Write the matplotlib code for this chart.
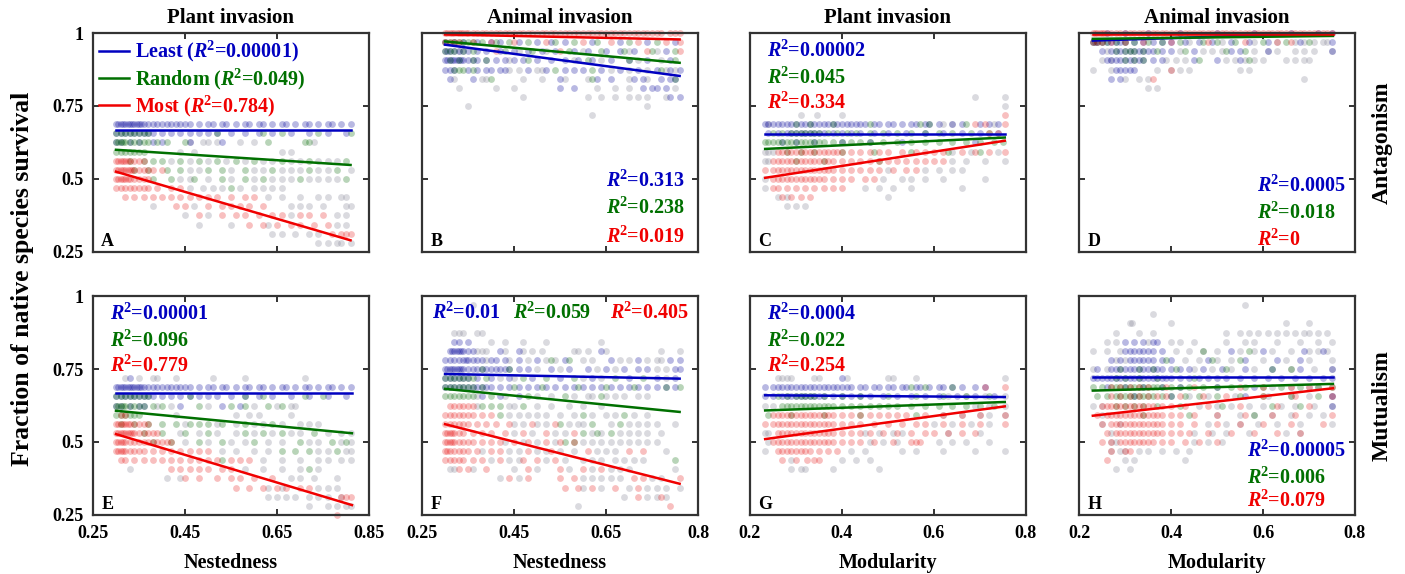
import matplotlib
matplotlib.use("Agg")
import matplotlib.pyplot as plt

plt.rcParams['font.family'] = 'Liberation Serif'
plt.rcParams['font.weight'] = 'bold'
plt.rcParams['mathtext.fontset'] = 'custom'
plt.rcParams['mathtext.rm'] = 'Liberation Serif:bold'
plt.rcParams['mathtext.bf'] = 'Liberation Serif:bold'
plt.rcParams['mathtext.it'] = 'Liberation Serif:italic:bold'

# ---- scatter data: (fraction survival level, [x values]) ----
A_least = [
    (0.688, [0.30, 0.305, 0.31, 0.315, 0.32, 0.325, 0.33, 0.335, 0.34, 0.345, 0.35, 0.355, 0.36, 0.37, 0.38, 0.39, 0.40, 0.41, 0.42, 0.43, 0.44, 0.45, 0.46, 0.48, 0.50, 0.51, 0.53, 0.54, 0.56, 0.58, 0.59, 0.61, 0.62, 0.64, 0.66, 0.67, 0.69, 0.71, 0.72, 0.74, 0.76, 0.77, 0.79, 0.81]),
    (0.656, [0.30, 0.31, 0.32, 0.33, 0.34, 0.35, 0.36, 0.37, 0.38, 0.40, 0.42, 0.44, 0.46, 0.48, 0.50, 0.52, 0.55, 0.58, 0.61, 0.64, 0.68, 0.72, 0.76, 0.80]),
    (0.625, [0.30, 0.31, 0.33, 0.35, 0.38, 0.40, 0.46, 0.53]),
]
A_random = [
    (0.656, [0.30, 0.31, 0.32, 0.33, 0.34, 0.35, 0.36, 0.37, 0.52, 0.62, 0.66, 0.74, 0.81]),
    (0.625, [0.30, 0.305, 0.31, 0.315, 0.32, 0.33, 0.34, 0.35, 0.36, 0.37, 0.39, 0.41, 0.45, 0.63, 0.71, 0.72]),
    (0.594, [0.30, 0.31, 0.32, 0.33, 0.34, 0.35, 0.36]),
    (0.562, [0.33, 0.36, 0.38, 0.40, 0.44, 0.48, 0.52, 0.56, 0.60, 0.66, 0.72, 0.80]),
    (0.531, [0.34, 0.37, 0.41, 0.44, 0.50, 0.53, 0.58, 0.64, 0.72, 0.78]),
    (0.5, [0.38, 0.42, 0.47, 0.53, 0.58, 0.62, 0.70, 0.80]),
    (0.469, [0.55]),
]
A_most = [
    (0.562, [0.30, 0.305, 0.31, 0.315, 0.32, 0.325, 0.33, 0.34, 0.35, 0.36]),
    (0.531, [0.30, 0.305, 0.31, 0.315, 0.32, 0.325, 0.33, 0.335, 0.34, 0.35, 0.36, 0.37, 0.38, 0.40]),
    (0.5, [0.30, 0.305, 0.31, 0.315, 0.32, 0.325, 0.33, 0.34, 0.35, 0.36, 0.37]),
    (0.469, [0.30, 0.31, 0.32, 0.33, 0.34, 0.35, 0.36, 0.37, 0.39, 0.42, 0.44]),
    (0.438, [0.32, 0.34, 0.36, 0.38, 0.40, 0.42, 0.44, 0.46, 0.48, 0.50, 0.52, 0.55, 0.58, 0.60]),
    (0.406, [0.43, 0.45, 0.50, 0.53, 0.55, 0.57, 0.59, 0.62]),
    (0.375, [0.48, 0.53, 0.56, 0.58, 0.61, 0.64, 0.66, 0.70, 0.72, 0.75]),
    (0.344, [0.59, 0.62, 0.65, 0.68, 0.70, 0.73, 0.76]),
    (0.312, [0.77, 0.79, 0.80, 0.81]),
]
A_other = [
    (0.625, [0.46, 0.49, 0.50, 0.52, 0.57, 0.60, 0.73]),
    (0.594, [0.44, 0.47, 0.66, 0.68]),
    (0.562, [0.42, 0.46, 0.50, 0.54, 0.58, 0.62, 0.64, 0.68, 0.70, 0.74, 0.76, 0.78]),
    (0.531, [0.46, 0.48, 0.55, 0.60, 0.62, 0.66, 0.68, 0.70, 0.74, 0.76, 0.81]),
    (0.5, [0.44, 0.46, 0.50, 0.55, 0.60, 0.64, 0.66, 0.68, 0.72, 0.74, 0.76, 0.78]),
    (0.469, [0.46, 0.49, 0.51, 0.53, 0.57, 0.60, 0.62, 0.64, 0.66]),
    (0.438, [0.63, 0.66, 0.70, 0.74, 0.76, 0.79, 0.80]),
    (0.406, [0.38, 0.47, 0.68, 0.70, 0.72, 0.75, 0.80, 0.81]),
    (0.375, [0.45, 0.50, 0.68, 0.78, 0.80]),
    (0.344, [0.48, 0.55, 0.63, 0.78, 0.80]),
    (0.312, [0.64, 0.66, 0.69, 0.72, 0.74]),
    (0.281, [0.74, 0.76, 0.78, 0.79, 0.81]),
]

B_least = [
    (0.969, [0.30, 0.32, 0.34, 0.37, 0.40, 0.42, 0.46, 0.50, 0.53, 0.56, 0.62, 0.68, 0.74, 0.80]),
    (0.938, [0.30, 0.305, 0.31, 0.32, 0.33, 0.34, 0.35, 0.37, 0.39, 0.42, 0.45, 0.48, 0.51, 0.54, 0.58, 0.61, 0.65, 0.68, 0.71, 0.78]),
    (0.906, [0.30, 0.305, 0.31, 0.315, 0.32, 0.325, 0.33, 0.335, 0.34, 0.35, 0.36, 0.37, 0.39, 0.41, 0.43, 0.45, 0.47, 0.50, 0.53, 0.56, 0.59, 0.62, 0.66, 0.70, 0.74, 0.79]),
    (0.875, [0.30, 0.31, 0.32, 0.35, 0.37, 0.39, 0.40, 0.42, 0.43, 0.48, 0.52, 0.56, 0.58, 0.60, 0.64, 0.68, 0.72, 0.76, 0.79, 0.81]),
    (0.844, [0.31, 0.36, 0.55, 0.63, 0.66, 0.71, 0.73, 0.77, 0.79, 0.80]),
    (0.812, [0.55, 0.58, 0.73, 0.75, 0.76, 0.78]),
    (0.781, [0.79, 0.81]),
]
B_random = [
    (0.969, [0.30, 0.31, 0.32, 0.33, 0.34, 0.35, 0.36, 0.38, 0.41, 0.44, 0.48, 0.54, 0.58, 0.63, 0.70, 0.76]),
    (0.938, [0.30, 0.31, 0.32, 0.34, 0.36, 0.43, 0.49, 0.57, 0.64, 0.69, 0.75, 0.80]),
    (0.906, [0.31, 0.33, 0.36, 0.39, 0.48, 0.61, 0.70, 0.80]),
    (0.875, [0.32, 0.33, 0.34, 0.36, 0.54, 0.62, 0.77]),
    (0.844, [0.40, 0.62, 0.80]),
]
B_most = [
    (1.0, [0.30, 0.305, 0.31, 0.315, 0.32, 0.325, 0.33, 0.335, 0.34, 0.345, 0.35, 0.36, 0.37, 0.38, 0.39, 0.40, 0.41, 0.42, 0.43, 0.44, 0.45, 0.46, 0.47, 0.48, 0.49, 0.50, 0.51, 0.52, 0.53, 0.54, 0.55, 0.56, 0.57, 0.58, 0.59, 0.60, 0.61, 0.62, 0.63, 0.64, 0.65, 0.66, 0.67, 0.68, 0.69, 0.70, 0.71, 0.72, 0.73, 0.74, 0.75, 0.76, 0.77, 0.79, 0.80, 0.81]),
    (0.969, [0.30, 0.31, 0.32, 0.33, 0.36, 0.40, 0.45, 0.52, 0.60, 0.66, 0.72, 0.78, 0.81]),
    (0.938, [0.41, 0.55, 0.74, 0.81]),
]
B_other = [
    (0.938, [0.33, 0.46, 0.52, 0.60, 0.70, 0.76]),
    (0.906, [0.44, 0.58, 0.64, 0.72, 0.77]),
    (0.875, [0.44, 0.46, 0.50, 0.51, 0.66, 0.70, 0.74, 0.78, 0.80]),
    (0.844, [0.32, 0.38, 0.39, 0.47, 0.51, 0.56, 0.61, 0.70, 0.74]),
    (0.812, [0.33, 0.41, 0.45, 0.63, 0.67, 0.70, 0.80]),
    (0.781, [0.47, 0.61, 0.64, 0.67, 0.70, 0.72, 0.74, 0.78]),
    (0.75, [0.35, 0.74]),
    (0.719, [0.62]),
]

C_least = [
    (0.688, [0.233, 0.24, 0.25, 0.26, 0.27, 0.28, 0.29, 0.30, 0.31, 0.32, 0.33, 0.34, 0.35, 0.36, 0.37, 0.38, 0.39, 0.40, 0.41, 0.42, 0.43, 0.44, 0.45, 0.47, 0.48, 0.50, 0.51, 0.53, 0.55, 0.56, 0.58, 0.59, 0.61, 0.64, 0.66, 0.70, 0.72, 0.74]),
    (0.656, [0.24, 0.26, 0.28, 0.29, 0.30, 0.31, 0.32, 0.33, 0.34, 0.35, 0.36, 0.38, 0.40, 0.42, 0.44, 0.47, 0.50, 0.54, 0.58, 0.62, 0.66, 0.70, 0.74]),
    (0.625, [0.27, 0.30, 0.34, 0.40, 0.46, 0.53, 0.69]),
]
C_random = [
    (0.688, [0.30, 0.33, 0.38, 0.46, 0.57, 0.59, 0.67]),
    (0.656, [0.25, 0.27, 0.29, 0.30, 0.31, 0.32, 0.33, 0.34, 0.35, 0.37, 0.39, 0.41, 0.43, 0.46, 0.49, 0.52, 0.55, 0.58, 0.61, 0.64, 0.68, 0.72]),
    (0.625, [0.233, 0.24, 0.25, 0.26, 0.27, 0.28, 0.29, 0.30, 0.31, 0.32, 0.33, 0.34, 0.35, 0.36, 0.38, 0.40, 0.42, 0.44, 0.46, 0.49, 0.52, 0.55, 0.58, 0.61, 0.64, 0.67, 0.70, 0.73, 0.75]),
    (0.594, [0.28, 0.31, 0.34, 0.40, 0.47, 0.55, 0.63, 0.70]),
    (0.562, [0.30, 0.36, 0.48]),
]
C_most = [
    (0.719, [0.754]),
    (0.688, [0.69, 0.71, 0.754]),
    (0.656, [0.72, 0.74]),
    (0.594, [0.26, 0.27, 0.28, 0.29, 0.30, 0.31, 0.32, 0.33, 0.34, 0.35, 0.36, 0.37, 0.38, 0.39, 0.40, 0.42, 0.44, 0.46, 0.48, 0.50, 0.53, 0.56, 0.58, 0.60, 0.62, 0.66, 0.69, 0.72, 0.754]),
    (0.562, [0.25, 0.26, 0.27, 0.28, 0.29, 0.30, 0.31, 0.32, 0.33, 0.34, 0.35, 0.36, 0.37, 0.38, 0.40, 0.42, 0.44, 0.46, 0.48, 0.50, 0.52, 0.54, 0.56, 0.58, 0.60, 0.62]),
    (0.531, [0.233, 0.25, 0.26, 0.27, 0.28, 0.29, 0.30, 0.31, 0.32, 0.33, 0.34, 0.35, 0.36, 0.37, 0.38, 0.40, 0.42, 0.44, 0.46, 0.48, 0.51, 0.54, 0.56]),
    (0.5, [0.25, 0.26, 0.27, 0.28, 0.29, 0.30, 0.31, 0.32, 0.33, 0.34, 0.35, 0.36, 0.38, 0.40, 0.42, 0.45, 0.47]),
    (0.469, [0.25, 0.26, 0.28, 0.30, 0.32, 0.34, 0.36, 0.38, 0.40]),
    (0.438, [0.27, 0.29, 0.31, 0.33]),
]
C_other = [
    (0.781, [0.69, 0.754]),
    (0.75, [0.754]),
    (0.719, [0.31, 0.345, 0.40]),
    (0.688, [0.24, 0.62, 0.64, 0.73]),
    (0.594, [0.233, 0.24, 0.25, 0.64, 0.68, 0.74]),
    (0.562, [0.233, 0.24, 0.64, 0.67, 0.71, 0.754]),
    (0.531, [0.50, 0.58, 0.61, 0.64, 0.66]),
    (0.5, [0.233, 0.49, 0.53, 0.55, 0.58, 0.62, 0.71]),
    (0.469, [0.233, 0.45, 0.48, 0.51, 0.55, 0.66]),
    (0.438, [0.26, 0.28, 0.50]),
    (0.406, [0.28, 0.30, 0.32]),
]

D_least = [
    (1.0, [0.26, 0.30, 0.35, 0.42, 0.50, 0.58, 0.66, 0.72, 0.75]),
    (0.969, [0.23, 0.235, 0.24, 0.25, 0.26, 0.27, 0.28, 0.29, 0.30, 0.32, 0.34, 0.36, 0.38, 0.40, 0.43, 0.46, 0.49, 0.53, 0.57, 0.61, 0.68, 0.75]),
    (0.938, [0.25, 0.27, 0.28, 0.29, 0.30, 0.31, 0.32, 0.33, 0.34, 0.35, 0.36, 0.38, 0.40, 0.45, 0.53, 0.55, 0.61, 0.75]),
    (0.906, [0.26, 0.27, 0.28, 0.29, 0.30, 0.31, 0.32, 0.33, 0.34, 0.36, 0.38, 0.45, 0.50, 0.55]),
    (0.875, [0.28, 0.29, 0.30, 0.31, 0.32]),
    (0.844, [0.27, 0.29]),
]
D_random = [
    (0.969, [0.23, 0.24, 0.25, 0.26, 0.28, 0.30, 0.32, 0.35, 0.38, 0.42, 0.47, 0.50, 0.54, 0.60, 0.65, 0.70]),
    (0.938, [0.28, 0.30, 0.31, 0.32, 0.34, 0.37, 0.43, 0.52, 0.56]),
    (0.906, [0.30, 0.32, 0.34, 0.46, 0.57]),
]
D_most = [
    (1.0, [0.23, 0.235, 0.24, 0.245, 0.25, 0.255, 0.26, 0.27, 0.28, 0.29, 0.30, 0.31, 0.32, 0.33, 0.34, 0.35, 0.36, 0.37, 0.38, 0.39, 0.40, 0.41, 0.42, 0.43, 0.44, 0.45, 0.46, 0.47, 0.48, 0.49, 0.50, 0.51, 0.52, 0.53, 0.54, 0.55, 0.56, 0.57, 0.58, 0.59, 0.60, 0.61, 0.62, 0.63, 0.64, 0.65, 0.66, 0.67, 0.68, 0.69, 0.70, 0.71, 0.72, 0.73, 0.74, 0.75]),
    (0.969, [0.23, 0.24, 0.25, 0.27, 0.30, 0.34, 0.40, 0.48, 0.56, 0.63, 0.66]),
    (0.875, [0.40]),
    (0.844, [0.36]),
]
D_other = [
    (0.969, [0.44, 0.51, 0.58, 0.63, 0.67, 0.69, 0.71, 0.73, 0.74]),
    (0.938, [0.26, 0.42, 0.47, 0.49, 0.51, 0.58, 0.61, 0.63, 0.67, 0.69, 0.71, 0.75]),
    (0.906, [0.25, 0.27, 0.39, 0.41, 0.43, 0.52, 0.54, 0.56, 0.58, 0.60, 0.65, 0.67, 0.69, 0.70]),
    (0.875, [0.23, 0.27, 0.37, 0.40, 0.42, 0.44, 0.55, 0.57]),
    (0.844, [0.30, 0.33, 0.35, 0.69]),
    (0.812, [0.35, 0.37]),
]

E_least = [
    (0.719, [0.33]),
    (0.688, [0.30, 0.305, 0.31, 0.315, 0.32, 0.325, 0.33, 0.335, 0.34, 0.345, 0.35, 0.355, 0.36, 0.37, 0.38, 0.39, 0.40, 0.41, 0.42, 0.43, 0.44, 0.45, 0.46, 0.48, 0.50, 0.51, 0.53, 0.54, 0.56, 0.58, 0.59, 0.61, 0.62, 0.64, 0.66, 0.67, 0.69, 0.71, 0.72, 0.74, 0.76, 0.77, 0.79, 0.81]),
    (0.656, [0.30, 0.31, 0.32, 0.33, 0.34, 0.35, 0.36, 0.37, 0.38, 0.40, 0.42, 0.44, 0.46, 0.48, 0.50, 0.52, 0.55, 0.58, 0.61, 0.64, 0.68, 0.72, 0.76, 0.80]),
    (0.625, [0.30, 0.31, 0.33, 0.35, 0.36, 0.44, 0.53, 0.57]),
]
E_random = [
    (0.656, [0.30, 0.31, 0.32, 0.33, 0.34, 0.35, 0.36, 0.37, 0.46, 0.58, 0.62, 0.71, 0.75]),
    (0.625, [0.30, 0.305, 0.31, 0.315, 0.32, 0.33, 0.34, 0.35, 0.36, 0.38, 0.40, 0.48, 0.55, 0.58, 0.63, 0.66]),
    (0.594, [0.30, 0.31, 0.32, 0.33, 0.34, 0.35]),
    (0.562, [0.31, 0.34, 0.37, 0.40, 0.43, 0.46, 0.48, 0.50, 0.53, 0.58, 0.64]),
    (0.531, [0.36, 0.40, 0.45, 0.50, 0.58, 0.62, 0.66, 0.73]),
    (0.5, [0.38, 0.42, 0.48, 0.53, 0.60, 0.70, 0.77, 0.80]),
    (0.469, [0.66, 0.69, 0.72, 0.78]),
    (0.438, [0.53]),
    (0.406, [0.72]),
]
E_most = [
    (0.594, [0.31, 0.32]),
    (0.562, [0.30, 0.305, 0.31, 0.315, 0.32, 0.325, 0.33, 0.34, 0.35, 0.36, 0.37]),
    (0.531, [0.30, 0.305, 0.31, 0.315, 0.32, 0.325, 0.33, 0.335, 0.34, 0.35, 0.36, 0.37, 0.38, 0.39]),
    (0.5, [0.30, 0.305, 0.31, 0.315, 0.32, 0.33, 0.34, 0.35, 0.36, 0.37, 0.38, 0.39, 0.40, 0.41, 0.42]),
    (0.469, [0.30, 0.305, 0.31, 0.315, 0.32, 0.33, 0.34, 0.35, 0.36, 0.38, 0.40, 0.42, 0.44, 0.46, 0.48, 0.50]),
    (0.438, [0.31, 0.32, 0.34, 0.36, 0.38, 0.40, 0.42, 0.44, 0.46, 0.48, 0.50, 0.52, 0.55, 0.57, 0.59]),
    (0.406, [0.42, 0.44, 0.46, 0.48, 0.50, 0.53, 0.55]),
    (0.375, [0.45, 0.48, 0.52, 0.55, 0.57, 0.60, 0.64]),
    (0.344, [0.56, 0.59, 0.62, 0.65, 0.67, 0.70, 0.72]),
    (0.312, [0.79, 0.80, 0.81]),
    (0.25, [0.78]),
]
E_other = [
    (0.719, [0.32, 0.35, 0.38, 0.39, 0.43, 0.51, 0.58, 0.71]),
    (0.625, [0.39, 0.42, 0.50, 0.60, 0.65, 0.68, 0.69]),
    (0.594, [0.43, 0.56, 0.59, 0.61, 0.68]),
    (0.562, [0.45, 0.52, 0.56, 0.60, 0.62, 0.66, 0.70, 0.72, 0.74]),
    (0.531, [0.44, 0.48, 0.52, 0.56, 0.60, 0.64, 0.68, 0.70, 0.76, 0.79, 0.81]),
    (0.5, [0.45, 0.50, 0.55, 0.58, 0.63, 0.66, 0.72, 0.74, 0.79, 0.81]),
    (0.469, [0.53, 0.56, 0.60, 0.63, 0.74, 0.76, 0.80, 0.81]),
    (0.438, [0.62, 0.66, 0.70, 0.74, 0.76, 0.79, 0.81]),
    (0.406, [0.33, 0.58, 0.62, 0.66, 0.70, 0.74]),
    (0.375, [0.41, 0.44, 0.68, 0.70, 0.73, 0.78]),
    (0.344, [0.63, 0.66, 0.74, 0.76, 0.78]),
    (0.312, [0.63, 0.65, 0.67, 0.69, 0.72, 0.74, 0.76, 0.79]),
    (0.281, [0.72, 0.76, 0.78, 0.80, 0.81]),
]

F_least = [
    (0.844, [0.32, 0.33, 0.35]),
    (0.812, [0.31, 0.315, 0.32, 0.325, 0.33, 0.335, 0.34, 0.35, 0.36, 0.42, 0.46, 0.64]),
    (0.781, [0.30, 0.31, 0.32, 0.33, 0.34, 0.345, 0.35, 0.36, 0.37, 0.38, 0.40, 0.41, 0.43, 0.46, 0.50, 0.56, 0.66, 0.72, 0.79, 0.81]),
    (0.75, [0.30, 0.305, 0.31, 0.315, 0.32, 0.325, 0.33, 0.335, 0.34, 0.35, 0.36, 0.37, 0.38, 0.39, 0.40, 0.41, 0.42, 0.43, 0.44, 0.46, 0.48, 0.53, 0.57, 0.61, 0.65, 0.69, 0.72, 0.74, 0.80, 0.81]),
    (0.719, [0.30, 0.31, 0.32, 0.33, 0.34, 0.35, 0.37, 0.40, 0.44, 0.49, 0.55, 0.62, 0.70, 0.76, 0.80]),
    (0.688, [0.30, 0.31, 0.32, 0.33, 0.34, 0.35, 0.36, 0.37, 0.38, 0.39, 0.40, 0.42, 0.44, 0.46, 0.48, 0.50, 0.52, 0.54, 0.56, 0.58, 0.60, 0.62, 0.64, 0.66, 0.68, 0.70, 0.72, 0.74, 0.76, 0.78, 0.80]),
    (0.656, [0.38, 0.42, 0.46]),
]
F_random = [
    (0.781, [0.53, 0.57]),
    (0.75, [0.38, 0.44]),
    (0.719, [0.30, 0.31, 0.32, 0.33, 0.34, 0.35, 0.36, 0.39, 0.47, 0.52, 0.58, 0.67, 0.73]),
    (0.688, [0.30, 0.31, 0.32, 0.33, 0.34, 0.35, 0.36, 0.38, 0.45, 0.51, 0.59, 0.65, 0.71, 0.78, 0.81]),
    (0.656, [0.30, 0.31, 0.32, 0.33, 0.34, 0.35, 0.36, 0.40, 0.48, 0.56, 0.64]),
    (0.625, [0.38, 0.40, 0.42, 0.47]),
    (0.594, [0.42, 0.60, 0.69]),
    (0.562, [0.55, 0.62, 0.68]),
    (0.531, [0.60, 0.63, 0.66]),
    (0.5, [0.56, 0.58]),
    (0.438, [0.80]),
]
F_most = [
    (0.625, [0.31, 0.32, 0.33, 0.34, 0.35, 0.36]),
    (0.594, [0.30, 0.31, 0.32, 0.33, 0.34, 0.35, 0.36, 0.38, 0.40]),
    (0.562, [0.30, 0.31, 0.32, 0.33, 0.34, 0.35, 0.37, 0.39, 0.41, 0.44, 0.49, 0.54]),
    (0.531, [0.30, 0.305, 0.31, 0.315, 0.32, 0.33, 0.34, 0.36, 0.38, 0.40, 0.43, 0.47, 0.52, 0.58]),
    (0.5, [0.30, 0.305, 0.31, 0.315, 0.32, 0.33, 0.34, 0.35, 0.36, 0.38, 0.40, 0.42, 0.45, 0.48, 0.52, 0.55, 0.58]),
    (0.469, [0.30, 0.305, 0.31, 0.32, 0.33, 0.34, 0.35, 0.37, 0.40, 0.42, 0.48, 0.53, 0.61, 0.70, 0.73]),
    (0.438, [0.30, 0.31, 0.32, 0.33, 0.34, 0.36, 0.38, 0.42, 0.47, 0.50, 0.54]),
    (0.406, [0.33, 0.35, 0.39, 0.48, 0.55, 0.60, 0.64]),
    (0.375, [0.44, 0.48, 0.55, 0.58, 0.71, 0.73, 0.81]),
    (0.344, [0.56, 0.59, 0.62, 0.67, 0.72]),
    (0.312, [0.72, 0.77]),
    (0.281, [0.79]),
]
F_other = [
    (0.969, [0.36]),
    (0.875, [0.32, 0.33, 0.34, 0.37, 0.38]),
    (0.844, [0.40, 0.43, 0.47, 0.52, 0.64]),
    (0.812, [0.37, 0.38, 0.39, 0.43, 0.47, 0.49, 0.51, 0.58, 0.59, 0.61, 0.65, 0.77, 0.81]),
    (0.781, [0.39, 0.44, 0.48, 0.52, 0.54, 0.60, 0.62, 0.68, 0.70, 0.74, 0.76, 0.77]),
    (0.75, [0.50, 0.55, 0.63, 0.67, 0.76, 0.78]),
    (0.719, [0.42, 0.45, 0.60, 0.64, 0.78]),
    (0.656, [0.37, 0.43, 0.50, 0.53, 0.58, 0.61, 0.62, 0.65, 0.67, 0.69, 0.72, 0.74]),
    (0.625, [0.37, 0.44, 0.45, 0.50, 0.53, 0.57, 0.60, 0.64]),
    (0.594, [0.44, 0.46, 0.48, 0.50, 0.52, 0.55, 0.58, 0.62, 0.65, 0.67, 0.71, 0.74]),
    (0.562, [0.45, 0.47, 0.50, 0.52, 0.57, 0.59, 0.60, 0.66, 0.70, 0.72, 0.74, 0.76, 0.80]),
    (0.531, [0.45, 0.49, 0.54, 0.56, 0.62, 0.64, 0.68, 0.70, 0.72, 0.74, 0.77]),
    (0.5, [0.43, 0.47, 0.50, 0.54, 0.60, 0.62, 0.64, 0.66, 0.68, 0.70, 0.72, 0.74, 0.76]),
    (0.469, [0.38, 0.44, 0.46, 0.50, 0.52, 0.55, 0.58, 0.63, 0.65, 0.67, 0.78]),
    (0.438, [0.40, 0.44, 0.46, 0.52, 0.56, 0.60, 0.62, 0.64, 0.67, 0.69, 0.71, 0.73]),
    (0.406, [0.31, 0.32, 0.36, 0.45, 0.50, 0.57, 0.62, 0.66, 0.68, 0.70, 0.80]),
    (0.375, [0.42, 0.46, 0.60, 0.62, 0.64, 0.66, 0.68, 0.75, 0.77]),
    (0.344, [0.60, 0.64, 0.70, 0.74, 0.76, 0.78, 0.81]),
    (0.312, [0.69, 0.74, 0.76, 0.78]),
    (0.281, [0.59]),
]

G_least = [
    (0.719, [0.40]),
    (0.688, [0.233, 0.25, 0.26, 0.27, 0.28, 0.29, 0.30, 0.31, 0.32, 0.33, 0.34, 0.35, 0.36, 0.37, 0.38, 0.39, 0.40, 0.41, 0.42, 0.44, 0.45, 0.47, 0.48, 0.50, 0.51, 0.53, 0.54, 0.56, 0.57, 0.59, 0.61, 0.62, 0.64, 0.66, 0.69, 0.71]),
    (0.656, [0.233, 0.25, 0.27, 0.28, 0.29, 0.30, 0.31, 0.32, 0.33, 0.34, 0.35, 0.36, 0.38, 0.40, 0.42, 0.44, 0.46, 0.49, 0.52, 0.55, 0.58, 0.61, 0.65, 0.69, 0.73]),
]
G_random = [
    (0.688, [0.55, 0.58, 0.64]),
    (0.656, [0.26, 0.28, 0.30, 0.31, 0.32, 0.33, 0.34, 0.36, 0.40, 0.44, 0.50, 0.56, 0.62, 0.67, 0.72]),
    (0.625, [0.27, 0.28, 0.29, 0.30, 0.31, 0.32, 0.33, 0.34, 0.35, 0.36, 0.37, 0.38, 0.40, 0.42, 0.44, 0.46, 0.48, 0.50, 0.52, 0.55, 0.58, 0.61, 0.64, 0.67, 0.70, 0.73]),
    (0.594, [0.24, 0.29, 0.36, 0.44, 0.56]),
]
G_most = [
    (0.688, [0.71, 0.754]),
    (0.594, [0.25, 0.26, 0.27, 0.28, 0.29, 0.30, 0.31, 0.32, 0.33, 0.34, 0.35, 0.36, 0.37, 0.38, 0.40, 0.42, 0.44, 0.46, 0.48, 0.50, 0.52, 0.54, 0.58, 0.62, 0.66, 0.70, 0.754]),
    (0.562, [0.233, 0.25, 0.26, 0.27, 0.28, 0.29, 0.30, 0.31, 0.32, 0.33, 0.34, 0.35, 0.36, 0.37, 0.38, 0.40, 0.42, 0.44, 0.47, 0.50, 0.53, 0.56, 0.58, 0.62, 0.66, 0.70, 0.754]),
    (0.531, [0.26, 0.27, 0.28, 0.29, 0.30, 0.31, 0.32, 0.33, 0.34, 0.35, 0.36, 0.37, 0.38, 0.40, 0.42, 0.44, 0.46, 0.49, 0.52, 0.55, 0.58, 0.60, 0.63, 0.66, 0.69]),
    (0.5, [0.25, 0.26, 0.27, 0.28, 0.29, 0.30, 0.31, 0.32, 0.33, 0.34, 0.35, 0.36, 0.37, 0.38, 0.40, 0.42, 0.44, 0.47, 0.51, 0.55, 0.56, 0.57]),
    (0.469, [0.26, 0.27, 0.28, 0.29, 0.30, 0.31, 0.32, 0.33, 0.35, 0.37, 0.39]),
    (0.438, [0.27, 0.30, 0.325, 0.34, 0.35]),
]
G_other = [
    (0.719, [0.26, 0.27, 0.28, 0.29, 0.34, 0.35, 0.41, 0.50, 0.51, 0.56, 0.754]),
    (0.656, [0.63, 0.67, 0.71, 0.754]),
    (0.625, [0.233, 0.25, 0.69, 0.72, 0.754]),
    (0.594, [0.62, 0.66, 0.70, 0.72, 0.754]),
    (0.562, [0.60, 0.64, 0.68, 0.72]),
    (0.531, [0.233, 0.24, 0.45, 0.48, 0.51, 0.53, 0.63, 0.70]),
    (0.5, [0.24, 0.46, 0.49, 0.52, 0.61, 0.64, 0.67, 0.72]),
    (0.469, [0.233, 0.42, 0.45, 0.53, 0.56, 0.62, 0.69, 0.754]),
    (0.438, [0.29, 0.40, 0.43, 0.46]),
    (0.406, [0.29, 0.31, 0.32, 0.38, 0.48]),
]

H_least = [
    (0.844, [0.30, 0.32, 0.34, 0.36, 0.37]),
    (0.812, [0.30, 0.31, 0.32, 0.33, 0.34, 0.35, 0.36, 0.38, 0.53, 0.60, 0.69, 0.73]),
    (0.781, [0.27, 0.29, 0.31, 0.32, 0.33, 0.34, 0.35, 0.36, 0.38, 0.40, 0.48, 0.56, 0.63, 0.68]),
    (0.75, [0.24, 0.27, 0.28, 0.29, 0.30, 0.31, 0.32, 0.33, 0.34, 0.35, 0.36, 0.37, 0.38, 0.40, 0.42, 0.44, 0.47, 0.51, 0.56, 0.62, 0.68, 0.75]),
    (0.719, [0.23, 0.24, 0.25, 0.26, 0.27, 0.28, 0.29, 0.30, 0.31, 0.32, 0.33, 0.34, 0.35, 0.36, 0.37, 0.38, 0.39, 0.40, 0.42, 0.44, 0.46, 0.48, 0.50, 0.52, 0.55, 0.58, 0.61, 0.64, 0.67, 0.70, 0.73, 0.75]),
    (0.688, [0.26, 0.30, 0.34, 0.38, 0.42, 0.50, 0.58]),
    (0.656, [0.32, 0.40, 0.56, 0.75]),
    (0.625, [0.75]),
]
H_random = [
    (0.812, [0.47, 0.57]),
    (0.781, [0.39, 0.49, 0.55]),
    (0.75, [0.29, 0.33, 0.36, 0.41, 0.52, 0.62, 0.66]),
    (0.719, [0.28, 0.30, 0.33, 0.37, 0.45]),
    (0.688, [0.23, 0.25, 0.27, 0.28, 0.29, 0.30, 0.31, 0.32, 0.33, 0.34, 0.35, 0.36, 0.37, 0.38, 0.40, 0.42, 0.44, 0.47, 0.50, 0.53, 0.56, 0.60, 0.64, 0.68, 0.72, 0.75]),
    (0.656, [0.24, 0.26, 0.28, 0.29, 0.30, 0.31, 0.32, 0.33, 0.34, 0.35, 0.36, 0.38, 0.40, 0.43, 0.46, 0.50, 0.55, 0.60, 0.66, 0.72]),
    (0.625, [0.28, 0.30, 0.32, 0.34, 0.37, 0.42, 0.51, 0.62, 0.68]),
    (0.594, [0.34, 0.44, 0.58]),
]
H_most = [
    (0.688, [0.27, 0.29, 0.31, 0.33, 0.35, 0.39, 0.45, 0.55, 0.60, 0.66, 0.70, 0.75]),
    (0.656, [0.27, 0.29, 0.31, 0.33, 0.35, 0.37, 0.39, 0.42, 0.47, 0.52, 0.60, 0.67, 0.75]),
    (0.625, [0.25, 0.26, 0.27, 0.28, 0.29, 0.30, 0.31, 0.32, 0.33, 0.34, 0.35, 0.36, 0.38, 0.40, 0.43, 0.48, 0.55, 0.63, 0.70]),
    (0.594, [0.24, 0.26, 0.27, 0.28, 0.29, 0.30, 0.31, 0.32, 0.33, 0.34, 0.35, 0.36, 0.37, 0.38, 0.40, 0.42, 0.45, 0.50, 0.56, 0.62, 0.67, 0.75]),
    (0.562, [0.25, 0.27, 0.28, 0.29, 0.30, 0.31, 0.32, 0.33, 0.34, 0.35, 0.36, 0.37, 0.38, 0.40, 0.42, 0.45, 0.50, 0.55, 0.60, 0.66, 0.73]),
    (0.531, [0.26, 0.28, 0.29, 0.30, 0.31, 0.32, 0.33, 0.34, 0.35, 0.36, 0.37, 0.38, 0.40, 0.42, 0.44, 0.48, 0.53, 0.58, 0.63, 0.68]),
    (0.5, [0.25, 0.27, 0.29, 0.30, 0.31, 0.32, 0.33, 0.34, 0.35, 0.36, 0.38, 0.40, 0.43, 0.46, 0.50]),
    (0.469, [0.27, 0.30, 0.31]),
    (0.438, [0.26]),
]
H_other = [
    (0.969, [0.56]),
    (0.938, [0.36]),
    (0.906, [0.31, 0.315, 0.40, 0.65, 0.70]),
    (0.875, [0.28, 0.33, 0.36, 0.52, 0.55, 0.57, 0.59, 0.61, 0.63, 0.65, 0.67, 0.69, 0.70, 0.72, 0.74]),
    (0.844, [0.26, 0.28, 0.35, 0.40, 0.42, 0.45, 0.52, 0.56, 0.58, 0.63, 0.68, 0.72, 0.75]),
    (0.812, [0.23, 0.26, 0.29, 0.41, 0.44, 0.47, 0.50, 0.55, 0.58, 0.62, 0.66, 0.70, 0.72, 0.74]),
    (0.781, [0.28, 0.30, 0.43, 0.46, 0.50, 0.53, 0.60, 0.65, 0.70, 0.75]),
    (0.75, [0.23, 0.26, 0.45, 0.49, 0.53, 0.58, 0.66, 0.71, 0.75]),
    (0.688, [0.62, 0.66, 0.70, 0.72]),
    (0.656, [0.44, 0.48, 0.54, 0.61, 0.66, 0.70, 0.75]),
    (0.625, [0.23, 0.25, 0.46, 0.50, 0.53, 0.57, 0.60, 0.64, 0.67, 0.71, 0.75]),
    (0.594, [0.25, 0.50, 0.55, 0.58, 0.62, 0.66, 0.70, 0.73]),
    (0.562, [0.25, 0.29, 0.48, 0.52, 0.55, 0.59, 0.63, 0.68, 0.75]),
    (0.531, [0.27, 0.45, 0.49, 0.52, 0.57, 0.65, 0.68]),
    (0.5, [0.27, 0.28, 0.45, 0.48, 0.51]),
    (0.469, [0.27, 0.29, 0.30, 0.33, 0.35, 0.38, 0.41, 0.44]),
    (0.438, [0.30, 0.32, 0.43]),
    (0.406, [0.28, 0.31]),
]

# ---- regression lines: x span and y at both ends (Least, Random, Most) ----
fit_x = {'A': [0.30, 0.81], 'B': [0.30, 0.81], 'C': [0.233, 0.754], 'D': [0.23, 0.752],
         'E': [0.30, 0.813], 'F': [0.30, 0.81], 'G': [0.233, 0.754], 'H': [0.23, 0.752]}
fit_least = {'A': [0.668, 0.668], 'B': [0.960, 0.853], 'C': [0.655, 0.655], 'D': [0.974, 1.0],
             'E': [0.668, 0.668], 'F': [0.733, 0.717], 'G': [0.660, 0.654], 'H': [0.722, 0.722]}
fit_random = {'A': [0.600, 0.548], 'B': [0.971, 0.898], 'C': [0.603, 0.642], 'D': [0.980, 0.990],
              'E': [0.607, 0.530], 'F': [0.682, 0.603], 'G': [0.608, 0.637], 'H': [0.676, 0.699]}
fit_most = {'A': [0.525, 0.290], 'B': [0.995, 0.978], 'C': [0.504, 0.631], 'D': [0.997, 0.997],
            'E': [0.527, 0.284], 'F': [0.561, 0.357], 'G': [0.510, 0.622], 'H': [0.590, 0.684]}

r2_least = {'A': '0.00001', 'B': '0.313', 'C': '0.00002', 'D': '0.0005',
            'E': '0.00001', 'F': '0.01', 'G': '0.0004', 'H': '0.00005'}
r2_random = {'A': '0.049', 'B': '0.238', 'C': '0.045', 'D': '0.018',
             'E': '0.096', 'F': '0.059', 'G': '0.022', 'H': '0.006'}
r2_most = {'A': '0.784', 'B': '0.019', 'C': '0.334', 'D': '0',
           'E': '0.779', 'F': '0.405', 'G': '0.254', 'H': '0.079'}

col_titles = ['Plant invasion', 'Animal invasion', 'Plant invasion', 'Animal invasion']
row_labels = ['Antagonism', 'Mutualism']
x_labels = ['Nestedness', 'Nestedness', 'Modularity', 'Modularity']

BLUE = '#0000c0'
GREEN = '#007000'
RED = '#f00000'
GRAY = '#8c8c9c'

panels = {
    'A': (A_least, A_random, A_most, A_other), 'B': (B_least, B_random, B_most, B_other),
    'C': (C_least, C_random, C_most, C_other), 'D': (D_least, D_random, D_most, D_other),
    'E': (E_least, E_random, E_most, E_other), 'F': (F_least, F_random, F_most, F_other),
    'G': (G_least, G_random, G_most, G_other), 'H': (H_least, H_random, H_most, H_other),
}


def rows_to_xy(rows):
    xs, ys = [], []
    for y, row in rows:
        xs += row
        ys += [y] * len(row)
    return xs, ys


def r2(val):
    # bold italic R with raised 2
    return r'$R^{\!2}$=' + val


fig = plt.figure(figsize=(14.05, 5.74), dpi=100)
lefts = [0.0662, 0.3004, 0.5338, 0.768]
bottoms = [0.561, 0.1028]
W, H = 0.1964, 0.3815

letters = ['ABCD', 'EFGH']
for r in range(2):
    for c in range(4):
        key = letters[r][c]
        ax = fig.add_axes([lefts[c], bottoms[r], W, H])
        least, random_, most, other = panels[key]
        for rows, col, a in [(other, GRAY, 0.32), (least, (0, 0, 0.6), 0.28),
                             (random_, (0, 0.4, 0), 0.28), (most, (0.9, 0, 0), 0.25)]:
            xs, ys = rows_to_xy(rows)
            ax.scatter(xs, ys, s=24, color=col, alpha=a, linewidths=0, zorder=2, clip_on=False)
        ax.plot(fit_x[key], fit_least[key], color=BLUE, lw=1.8, zorder=3, label='Least (' + r2(r2_least[key]) + ')')
        ax.plot(fit_x[key], fit_random[key], color=GREEN, lw=1.8, zorder=3, label='Random (' + r2(r2_random[key]) + ')')
        ax.plot(fit_x[key], fit_most[key], color=RED, lw=1.8, zorder=3, label='Most (' + r2(r2_most[key]) + ')')

        if c < 2:
            ax.set_xlim(0.25, 0.85)
            ax.set_xticks([0.25, 0.45, 0.65, 0.85])
            ax.set_xticklabels(['0.25', '0.45', '0.65', '0.85' if c == 0 else '0.8'])
        else:
            ax.set_xlim(0.2, 0.8)
            ax.set_xticks([0.2, 0.4, 0.6, 0.8])
            ax.set_xticklabels(['0.2', '0.4', '0.6', '0.8'])
        ax.set_ylim(0.25, 1.0)
        ax.set_yticks([0.25, 0.5, 0.75, 1.0])
        ax.set_yticklabels(['0.25', '0.5', '0.75', '1'])
        ax.tick_params(direction='in', top=True, right=True, length=4, width=1.3,
                       labelsize=13, color='#222222', pad=7,
                       labelbottom=(r == 1), labelleft=(c == 0))
        for sp in ax.spines.values():
            sp.set_linewidth(1.6)
            sp.set_color('#333333')
            sp.set_zorder(4)

        ax.text(0.03, 0.05, key, transform=ax.transAxes, fontsize=13, va='center', ha='left')

        if r == 0:
            ax.set_title(col_titles[c], fontsize=15, fontweight='bold', pad=7)
        else:
            ax.set_xlabel(x_labels[c], fontsize=14.5, fontweight='bold', labelpad=8)
        if c == 3:
            ax.text(1.1, 0.5, row_labels[r], transform=ax.transAxes, rotation=90,
                    fontsize=17, va='center', ha='center')

        txt = [(r2(r2_least[key]), BLUE), (r2(r2_random[key]), GREEN), (r2(r2_most[key]), RED)]
        if key == 'A':
            leg = ax.legend(loc='upper left', frameon=False, fontsize=14.5, handlelength=1.5,
                            handletextpad=0.3, labelspacing=0.1, borderaxespad=0.1,
                            borderpad=0.2)
            for t, (_, cc) in zip(leg.get_texts(), txt):
                t.set_color(cc)
        elif key == 'F':
            for (s, cc), xp in zip(txt, [0.035, 0.33, 0.68]):
                ax.text(xp, 0.92, s, transform=ax.transAxes, color=cc, fontsize=14.5, va='center')
        else:
            if key in ('C', 'E', 'G'):
                xp, ys0 = 0.06, [0.915, 0.795, 0.68]
            elif key == 'B':
                xp, ys0 = 0.665, [0.325, 0.198, 0.069]
            elif key == 'D':
                xp, ys0 = 0.645, [0.30, 0.175, 0.055]
            else:
                xp, ys0 = 0.61, [0.29, 0.17, 0.065]
            for (s, cc), yp in zip(txt, ys0):
                ax.text(xp, yp, s, transform=ax.transAxes, color=cc, fontsize=14.5, va='center')

fig.text(0.016, 0.514, 'Fraction of native species survival', rotation=90, fontsize=18.5,
         va='center', ha='center')

fig.savefig('out.png', dpi=100)
